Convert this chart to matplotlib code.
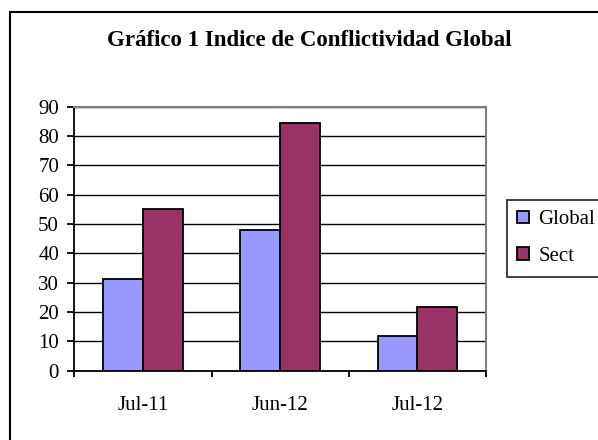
import matplotlib
matplotlib.use("Agg")
import matplotlib.pyplot as plt
import numpy as np
from matplotlib.patches import Rectangle

categories = ["Jul-11", "Jun-12", "Jul-12"]
global_vals = [31.2, 48.1, 11.9]
sect_vals = [55.1, 84.3, 21.6]
series_names = ["Global", "Sect"]
colors = ["#9999FF", "#993366"]
y_ticks = list(range(0, 91, 10))

plt.rcParams["font.family"] = ["Liberation Serif", "DejaVu Serif"]

W, H = 598, 440
fig = plt.figure(figsize=(W / 100, H / 100), dpi=100)

# outer chart border (runs off the right/bottom edge like the reference)
fig.patches.append(Rectangle((10 / W, -0.05), 1.2, 1 - 12 / H + 0.05,
                             transform=fig.transFigure, fill=False,
                             edgecolor="black", linewidth=1.5))

left, right, top, bottom = 74.3, 486, 106.7, 370.7
ax = fig.add_axes([left / W, 1 - bottom / H, (right - left) / W, (bottom - top) / H])

x = np.arange(len(categories))
bw = 0.29
ax.bar(x - bw / 2, global_vals, bw, color=colors[0], edgecolor="black",
       linewidth=1.3, label=series_names[0], zorder=3)
ax.bar(x + bw / 2, sect_vals, bw, color=colors[1], edgecolor="black",
       linewidth=1.3, label=series_names[1], zorder=3)

ax.set_xlim(-0.5, len(categories) - 0.5)
ax.set_ylim(0, 90)
ax.set_yticks(y_ticks)
ax.yaxis.grid(True, color="black", linewidth=1.0, zorder=0)
ax.set_axisbelow(True)

ax.set_xticks(x)
ax.set_xticklabels(categories, fontsize=15)
ax.tick_params(axis="x", length=0, pad=18)
ax.set_xticks(np.arange(len(categories) + 1) - 0.5, minor=True)
ax.tick_params(axis="x", which="minor", length=4.5, width=1.3, direction="out")
ax.tick_params(axis="y", length=5, width=1.3, direction="out", labelsize=15, pad=6)

for s in ["left", "bottom"]:
    ax.spines[s].set_color("black")
    ax.spines[s].set_linewidth(1.3)
for s in ["top", "right"]:
    ax.spines[s].set_color("#808080")
    ax.spines[s].set_linewidth(1.5)

fig.text(309 / W, 1 - 40 / H, "Gráfico 1 Indice de Conflictividad Global",
         ha="center", va="center", fontsize=16.5, fontweight="bold")

leg = ax.legend(loc="upper left", bbox_to_anchor=(507 / W, 1 - 200 / H),
                bbox_transform=fig.transFigure, fontsize=15, frameon=True,
                fancybox=False, edgecolor="black", handlelength=0.55,
                handleheight=0.55, handletextpad=0.45, borderpad=0.5,
                labelspacing=0.85, borderaxespad=0)
leg.get_frame().set_linewidth(1.3)

fig.savefig("out.png", dpi=100)
